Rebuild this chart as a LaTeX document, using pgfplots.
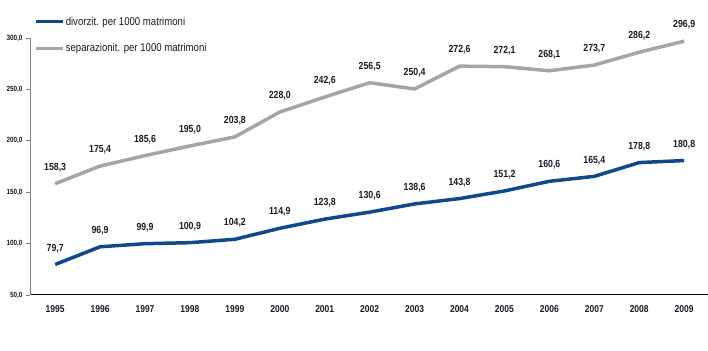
\documentclass[border=0pt]{standalone}
\usepackage{pgfplots}
\pgfplotsset{compat=1.18}
\usepackage{fontspec}
\setmainfont{Liberation Sans}[FakeStretch=0.85]
\definecolor{divblue}{RGB}{18,72,138}
\definecolor{sepgray}{RGB}{165,165,165}
\definecolor{txt}{RGB}{25,25,40}
\begin{document}
\begin{tikzpicture}[x=1pt,y=1pt]
\path[use as bounding box] (0,0) rectangle (708,350);
\begin{axis}[
  at={(30pt,55pt)}, anchor=south west,
  scale only axis, width=678pt, height=257pt,
  xmin=1994.44, xmax=2009.53, ymin=50, ymax=300,
  axis x line*=bottom, axis y line*=left,
  x axis line style={black, line width=1pt},
  y axis line style={gray, line width=0.8pt},
  xtick={1995,...,2009},
  xtick style={draw=none},
  ytick={50,100,...,300},
  ytick style={gray, line width=0.8pt},
  tick align=outside, major tick length=4pt,
  /pgf/number format/assume math mode=true,
  xticklabel style={font=\fontsize{10}{12}\selectfont\bfseries, text=txt, /pgf/number format/1000 sep={}, yshift=-3pt},
  yticklabel style={font=\fontsize{7.5}{9}\selectfont\bfseries, text=txt, /pgf/number format/.cd, fixed, fixed zerofill, precision=1, use comma},
  nodes near coords,
  every node near coord/.append style={font=\fontsize{10.3}{12}\selectfont\bfseries, text=txt, anchor=south, inner sep=0pt, yshift=10pt, /pgf/number format/.cd, fixed, fixed zerofill, precision=1, use comma, assume math mode=true},
  legend style={at={(axis description cs:0.006,1.087)}, anchor=north west, draw=none, fill=none,
    font=\fontsize{11.3}{13}\selectfont, text=txt, row sep=15pt, inner sep=0pt, nodes={inner sep=1pt}},
  legend cell align=left,
  legend image code/.code={\draw[#1, line width=3.5pt] (0pt,0pt) -- (27pt,0pt);},
  clip=false,
]
\addplot[divblue, line width=3.5pt, line join=round] coordinates {
(1995,79.7) (1996,96.9) (1997,99.9) (1998,100.9) (1999,104.2) (2000,114.9) (2001,123.8) (2002,130.6) (2003,138.6) (2004,143.8) (2005,151.2) (2006,160.6) (2007,165.4) (2008,178.8) (2009,180.8)};
\addlegendentry{divorzit. per 1000 matrimoni}
\addplot[sepgray, line width=3.5pt, line join=round] coordinates {
(1995,158.3) (1996,175.4) (1997,185.6) (1998,195.0) (1999,203.8) (2000,228.0) (2001,242.6) (2002,256.5) (2003,250.4) (2004,272.6) (2005,272.1) (2006,268.1) (2007,273.7) (2008,286.2) (2009,296.9)};
\addlegendentry{separazionit. per 1000 matrimoni}
\end{axis}
\end{tikzpicture}
\end{document}
